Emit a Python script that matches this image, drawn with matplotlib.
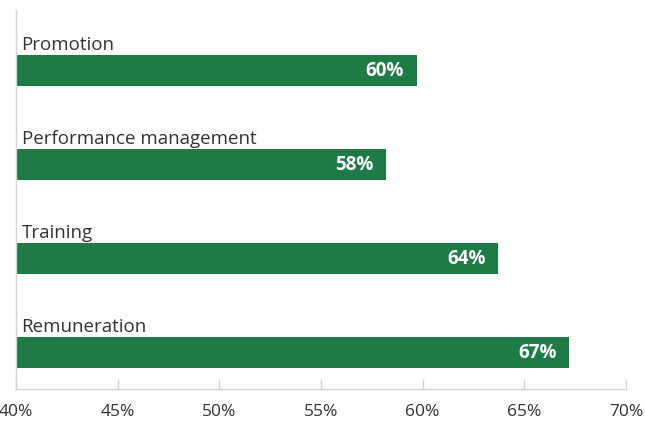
import matplotlib.pyplot as plt
from matplotlib.ticker import FuncFormatter

plt.rcParams['font.family'] = ['Open Sans', 'DejaVu Sans']

categories = ['Promotion', 'Performance management', 'Training', 'Remuneration']
values = [59.7, 58.2, 63.7, 67.2]
xticks = [40, 45, 50, 55, 60, 65, 70]

green = '#1e7b48'
grey = '#d4d4d4'

fig = plt.figure(figsize=(6.45, 4.21), dpi=100)
ax = fig.add_axes([16/645, 32/421, 610/645, 379/421])

ypos = list(range(len(categories)))
ax.barh(ypos, [v - 40 for v in values], left=40, height=0.33, color=green)

for y, name, v in zip(ypos, categories, values):
    ax.annotate(name, (40, y - 0.165), xytext=(4, 1), textcoords='offset points',
                ha='left', va='bottom', fontsize=13.5, color='#333333')
    ax.annotate(f'{v:.0f}%', (v, y), xytext=(-9, 0), textcoords='offset points',
                ha='right', va='center', fontsize=13.5, color='white', fontweight='bold')

ax.set_xlim(40, 70)
ax.set_ylim(3.388, -0.644)
ax.set_xticks(xticks)
ax.xaxis.set_major_formatter(FuncFormatter(lambda x, p: f'{x:.0f}%'))
ax.set_yticks([])
ax.tick_params(axis='x', direction='in', length=7, width=1, color=grey,
               pad=11, labelsize=12.5, labelcolor='#333333')

for s in ['top', 'right']:
    ax.spines[s].set_visible(False)
for s in ['left', 'bottom']:
    ax.spines[s].set_color(grey)
    ax.spines[s].set_linewidth(1)

fig.savefig('out.png', dpi=100)
